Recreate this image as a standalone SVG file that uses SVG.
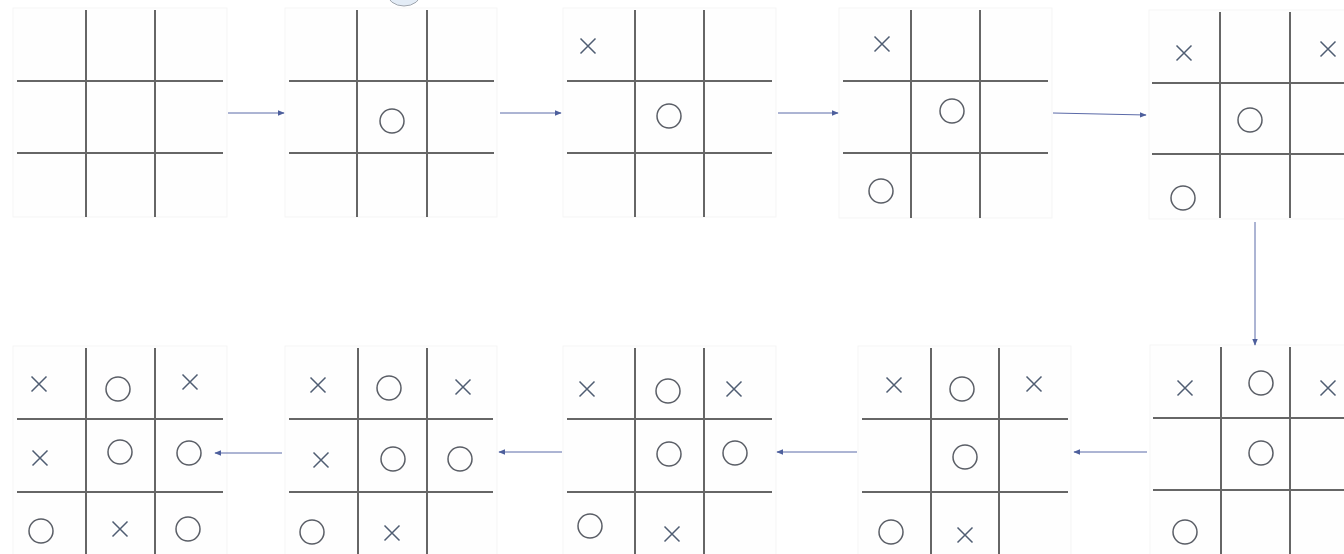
<svg xmlns="http://www.w3.org/2000/svg" width="1344" height="554" viewBox="0 0 1344 554">
<defs>
<style>
.bg{fill:#fefefe;stroke:#f5f5f5;stroke-width:1}
.g{stroke:#666666;stroke-width:2;fill:none}
.o{fill:none;stroke:#5a5e66;stroke-width:1.5}
.x{stroke:#4f5d72;stroke-width:1.5;fill:none}
.c{stroke:#5b6aa8;stroke-width:1;fill:none}
</style>
<marker id="ah" viewBox="0 0 10 10" refX="9" refY="5" markerWidth="7" markerHeight="7" orient="auto" markerUnits="userSpaceOnUse">
<path d="M0,1 L10,5 L0,9 z" fill="#4d5f9c"/>
</marker>
<symbol id="X" overflow="visible"><path d="M-7.5,-7.5 L7.5,7.5 M7.5,-7.5 L-7.5,7.5" class="x"/></symbol>
<symbol id="O" overflow="visible"><circle r="12" class="o"/></symbol>
</defs>
<rect width="1344" height="554" fill="#ffffff"/>
<ellipse cx="404" cy="-7" rx="17" ry="13" fill="#e3ecf6" stroke="#a0a6ae" stroke-width="1"/>

<g id="board1">
<rect class="bg" x="13" y="8" width="214" height="209"/>
<path class="g" d="M86,10V217M155,10V217M17,81H223M17,153H223"/>
</g>
<g id="board2">
<rect class="bg" x="285" y="8" width="212" height="209"/>
<path class="g" d="M357,10V217M427,10V217M289,81H494M289,153H494"/>
<use href="#O" x="392" y="121"/>
</g>
<g id="board3">
<rect class="bg" x="563" y="8" width="213" height="209"/>
<path class="g" d="M635,10V217M704,10V217M567,81H772M567,153H772"/>
<use href="#X" x="588" y="46"/>
<use href="#O" x="669" y="116"/>
</g>
<g id="board4">
<rect class="bg" x="839" y="8" width="213" height="210"/>
<path class="g" d="M911,10V218M980,10V218M843,81H1048M843,153H1048"/>
<use href="#X" x="882" y="44"/>
<use href="#O" x="952" y="111"/>
<use href="#O" x="881" y="191"/>
</g>
<g id="board5">
<rect class="bg" x="1149" y="10" width="200" height="209"/>
<path class="g" d="M1220,12V218M1290,12V218M1152,83H1344M1152,154H1344"/>
<use href="#X" x="1184" y="53"/>
<use href="#X" x="1328" y="49"/>
<use href="#O" x="1250" y="120"/>
<use href="#O" x="1183" y="198"/>
</g>
<g id="board6">
<rect class="bg" x="1150" y="345" width="200" height="215"/>
<path class="g" d="M1221,347V554M1290,347V554M1153,418H1344M1153,490H1344"/>
<use href="#X" x="1185" y="388"/>
<use href="#O" x="1261" y="383"/>
<use href="#X" x="1328" y="388"/>
<use href="#O" x="1261" y="453"/>
<use href="#O" x="1185" y="532"/>
</g>
<g id="board7">
<rect class="bg" x="858" y="346" width="213" height="214"/>
<path class="g" d="M931,348V554M999,348V554M862,419H1068M862,492H1068"/>
<use href="#X" x="894" y="385"/>
<use href="#O" x="962" y="389"/>
<use href="#X" x="1034" y="384"/>
<use href="#O" x="965" y="457"/>
<use href="#O" x="891" y="532"/>
<use href="#X" x="965" y="535"/>
</g>
<g id="board8">
<rect class="bg" x="563" y="346" width="213" height="214"/>
<path class="g" d="M635,348V554M704,348V554M567,419H772M567,492H772"/>
<use href="#X" x="587" y="389"/>
<use href="#O" x="668" y="391"/>
<use href="#X" x="734" y="389"/>
<use href="#O" x="669" y="454"/>
<use href="#O" x="735" y="453"/>
<use href="#O" x="590" y="526"/>
<use href="#X" x="672" y="534"/>
</g>
<g id="board9">
<rect class="bg" x="285" y="346" width="212" height="214"/>
<path class="g" d="M358,348V554M427,348V554M289,419H493M289,492H493"/>
<use href="#X" x="318" y="385"/>
<use href="#O" x="389" y="388"/>
<use href="#X" x="463" y="387"/>
<use href="#X" x="321" y="460"/>
<use href="#O" x="393" y="459"/>
<use href="#O" x="460" y="459"/>
<use href="#O" x="312" y="532"/>
<use href="#X" x="392" y="533"/>
</g>
<g id="board10">
<rect class="bg" x="13" y="346" width="214" height="214"/>
<path class="g" d="M86,348V554M155,348V554M17,419H223M17,492H223"/>
<use href="#X" x="39" y="384"/>
<use href="#O" x="118" y="389"/>
<use href="#X" x="190" y="382"/>
<use href="#X" x="40" y="458"/>
<use href="#O" x="120" y="452"/>
<use href="#O" x="189" y="453"/>
<use href="#O" x="41" y="531"/>
<use href="#X" x="120" y="529"/>
<use href="#O" x="188" y="529"/>
</g>

<g id="connectors">
<path class="c" d="M228,113H284" marker-end="url(#ah)"/>
<path class="c" d="M500,113H561" marker-end="url(#ah)"/>
<path class="c" d="M778,113H838" marker-end="url(#ah)"/>
<path class="c" d="M1053,113L1146,115" marker-end="url(#ah)"/>
<path class="c" d="M1255,222V345" marker-end="url(#ah)"/>
<path class="c" d="M1147,452H1074" marker-end="url(#ah)"/>
<path class="c" d="M857,452H777" marker-end="url(#ah)"/>
<path class="c" d="M562,452H499" marker-end="url(#ah)"/>
<path class="c" d="M282,453H215" marker-end="url(#ah)"/>
</g>
</svg>
